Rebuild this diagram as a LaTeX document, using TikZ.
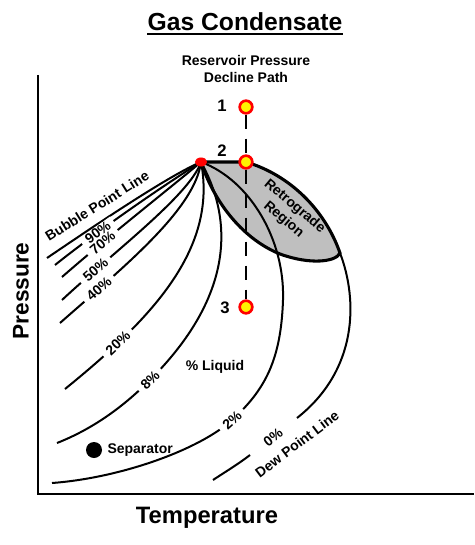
\documentclass[tikz,border=0pt]{standalone}
\usepackage{fontspec}
\setmainfont{Liberation Sans}
\usetikzlibrary{positioning,calc,shapes.geometric}

\begin{document}
\begin{tikzpicture}[
  x = 0.75pt,
  y = -0.75pt,
  liquid-line/.style={line width=1.5pt},
  dew-line/.style={line width=2.3pt},
  pct-label/.style={fill=white, inner xsep=4pt, inner ysep=0.5pt, sloped, font=\bfseries\fontsize{10.5}{12.75}\selectfont},
  plain-label/.style={inner sep=0pt, font=\bfseries\fontsize{10.5}{12.75}\selectfont},
  state-point/.style={circle, fill=yellow, draw=red, line width=2pt, minimum size=9.5pt, inner sep=0pt},
  state-number/.style={inner sep=0pt, font=\bfseries\fontsize{12.5}{14}\selectfont},
  axis-title/.style={inner sep=0pt, font=\bfseries\fontsize{17.5}{20}\selectfont},
  ]
  \useasboundingbox (0,0) rectangle (474,545);

  \node[inner sep=0pt, anchor=base, font=\bfseries\fontsize{18.5}{22}\selectfont] (title) at (245,31) {Gas Condensate};
  \draw[line width=1.7pt] ($(title.base west)+(0,3)$) -- ($(title.base east)+(0,3)$);
  \node[plain-label, anchor=base] (resv) at (246,66) {Reservoir Pressure};
  \node[plain-label, anchor=base] (declpath) at (246,83) {Decline Path};

  \coordinate (origin) at (38,494);
  \coordinate (p-top) at (38,75);
  \coordinate (t-end) at (474,494);
  \draw[line width=1.7pt] (p-top) -- (origin) -- (t-end);
  \node[axis-title, rotate=90, font=\bfseries\fontsize{17}{20}\selectfont] (pres) at (21,291) {Pressure};
  \node[axis-title, anchor=base, font=\bfseries\fontsize{17.8}{20}\selectfont] (temp) at (207,523) {Temperature};

  \coordinate (crit) at (201,162);
  \coordinate (cricon) at (246,162);
  \coordinate (dew-tip) at (340,253);
  \coordinate (retro-low) at (280,254);

  \fill[gray!50] (crit) -- (cricon) .. controls (290,175) and (325,210) .. (dew-tip)
    .. controls (336,262) and (310,265) .. (retro-low)
    .. controls (245,240) and (215,205) .. (crit) -- cycle;

  \draw[liquid-line] (crit) .. controls (170,175) and (100,222) .. (47,258);
  \draw[liquid-line] (crit) .. controls (175,178) and (105,225) .. (55,265)
    node[pct-label, pos=0.735] (pct-90) {90\%};
  \draw[liquid-line] (crit) .. controls (180,180) and (110,235) .. (62,277)
    node[pct-label, pos=0.74] (pct-70) {70\%};
  \draw[liquid-line] (crit) .. controls (190,195) and (110,255) .. (62,300)
    node[pct-label, pos=0.79] (pct-50) {50\%};
  \draw[liquid-line] (crit) .. controls (195,210) and (120,270) .. (60,323)
    node[pct-label, pos=0.79] (pct-40) {40\%};
  \draw[liquid-line] (crit) .. controls (218,250) and (150,320) .. (65,389)
    node[pct-label, pos=0.78] (pct-20) {20\%};
  \draw[liquid-line] (crit) .. controls (236,225) and (230,300) .. (150,380)
    node[pct-label, pos=1] (pct-8) {8\%}
    .. controls (125,405) and (95,428) .. (57,443);
  \draw[liquid-line] (crit) .. controls (250,180) and (285,240) .. (283,300)
    .. controls (281,360) and (265,390) .. (232,420) node[pct-label, pos=1] (pct-2) {2\%}
    .. controls (199,450) and (120,478) .. (52,483);

  \draw[dew-line] (crit) -- (cricon) .. controls (290,175) and (325,210) .. (dew-tip)
    .. controls (336,262) and (310,265) .. (retro-low)
    .. controls (245,240) and (215,205) .. (crit);
  \draw[liquid-line] (dew-tip) .. controls (358,300) and (358,370) .. (297,418);
  \draw[liquid-line] (250,455) .. controls (237,465) and (225,472) .. (213,480);

  \node[plain-label, rotate=32] (bubble-label) at (97,206) {Bubble Point Line};
  \node[plain-label, rotate=38] (pct-0) at (273,437) {0\%};
  \node[plain-label, rotate=37] (dew-label) at (297,444) {Dew Point Line};
  \node[plain-label, align=center, rotate=-40] (retro-label) at (289,213) {Retrograde\\Region};
  \node[plain-label] (liquid) at (215,367) {\% Liquid};

  \node[circle, fill=black, minimum size=12pt, inner sep=0pt] (sep-dot) at (94,450) {};
  \node[plain-label, right=3.75pt of sep-dot] (sep-label) {Separator};

  \node[state-point] (st1) at (246,107) {};
  \node[state-point] (st2) at (246,162) {};
  \node[state-point] (st3) at (246,307) {};
  \draw[line width=1.8pt, dash pattern=on 11pt off 7pt] (st1) -- (st2);
  \draw[line width=1.8pt, dash pattern=on 11pt off 7pt] (st2) -- (st3);
  \node[state-number] (num1) at (222,106) {1};
  \node[state-number] (num2) at (222,151) {2};
  \node[state-number] (num3) at (225,308) {3};

  \node[ellipse, fill=red, minimum width=9.2pt, minimum height=6.8pt, inner sep=0pt] (crit-pt) at (crit) {};
\end{tikzpicture}
\end{document}
